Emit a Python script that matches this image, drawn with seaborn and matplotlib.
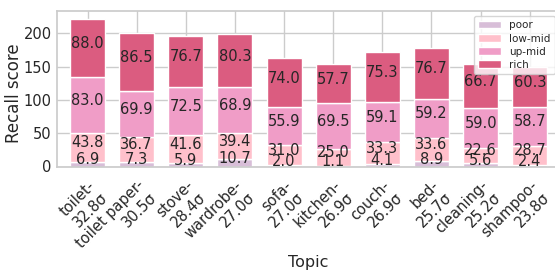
import numpy as np
import pandas as pd
import matplotlib
matplotlib.use("Agg")
import matplotlib.pyplot as plt
import seaborn as sns

# topics with their sigma score, and recall per income group
topics = ["toilet", "toilet paper", "stove", "wardrobe", "sofa",
          "kitchen", "couch", "bed", "cleaning", "shampoo"]
sigmas = [32.8, 30.5, 28.4, 27.0, 27.0, 26.9, 26.9, 25.7, 25.2, 23.8]

poor = [6.9, 7.3, 5.9, 10.7, 2.0, 1.1, 4.1, 8.9, 5.6, 2.4]
low_mid = [43.8, 36.7, 41.6, 39.4, 31.0, 25.0, 33.3, 33.6, 22.6, 28.7]
up_mid = [83.0, 69.9, 72.5, 68.9, 55.9, 69.5, 59.1, 59.2, 59.0, 58.7]
rich = [88.0, 86.5, 76.7, 80.3, 74.0, 57.7, 75.3, 76.7, 66.7, 60.3]

groups = ["poor", "low-mid", "up-mid", "rich"]
colors = ["#d8bed8", "#ffc0cb", "#f09dc7", "#db5c80"]

df = pd.DataFrame({"poor": poor, "low-mid": low_mid, "up-mid": up_mid, "rich": rich},
                  index=[f"{t}-\n{s}σ" for t, s in zip(topics, sigmas)])

sns.set_theme(style="whitegrid")
plt.rcParams['font.family'] = ['DejaVu Sans']

fig = plt.figure(figsize=(5.55, 2.71), dpi=100)
ax = fig.add_axes([57.3 / 555, 104.5 / 271, (560 - 57.3) / 555, (166.5 - 11) / 271])

x = np.arange(len(df))
bottom = np.zeros(len(df))
for g, c in zip(groups, colors):
    vals = df[g].values
    ax.bar(x, vals, width=0.71, bottom=bottom, color=c, label=g, zorder=2)
    # value label at the middle of each segment
    for xi, b, v in zip(x, bottom, vals):
        ax.text(xi, b + v / 2, f"{v:.1f}", ha="center", fontsize=10.5, color="#262626", zorder=3)
    bottom += vals

ax.set_xlim(-0.615, len(df) - 0.385)
ax.set_ylim(0, 233.5)
ax.set_yticks([0, 50, 100, 150, 200])
ax.set_xticks(x)
ax.set_xticklabels(df.index, rotation=45, ha="right", rotation_mode="anchor", fontsize=10.5)
ax.tick_params(axis="y", labelsize=10.5, length=0, pad=4)
ax.tick_params(axis="x", pad=2)
ax.set_xlabel("Topic", fontsize=11.5)
ax.set_ylabel("Recall score", fontsize=12)
ax.xaxis.set_label_coords(0.5, -0.57)
ax.yaxis.set_label_coords(-0.068, 0.47)
ax.legend(loc="upper right", fontsize=7.5, handlelength=2.2, borderpad=0.4, labelspacing=0.3)

fig.savefig("out.png", dpi=100)
